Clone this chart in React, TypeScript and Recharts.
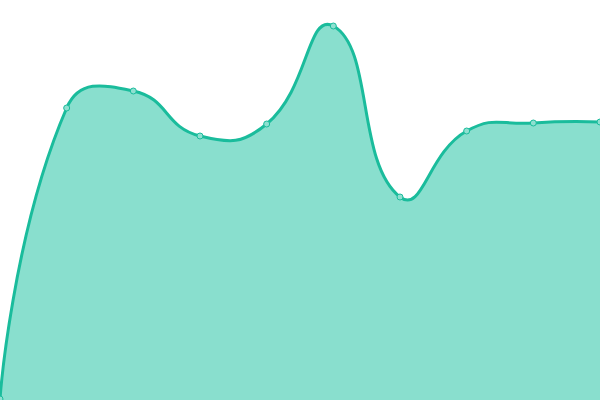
import { Area, AreaChart, XAxis, YAxis } from "recharts";

const LABELS = ["A", "B", "C", "D", "E", "F", "G", "H", "I", "J"];
const VALUES = [1, 292, 309, 264, 276, 374, 203, 269, 277, 278];

const LINE = "#1abc9c";
const FILL = "#89dfce";
const SMOOTH = 0.5;

// bezier smoothing: control points along the prev->next direction, split by segment length
function smoothCurve(context: any) {
  let line = NaN;
  let pts: number[][] = [];
  return {
    areaStart() {
      line = 0;
    },
    areaEnd() {
      line = NaN;
    },
    lineStart() {
      pts = [];
    },
    lineEnd() {
      const n = pts.length;
      if (n) {
        const [x0, y0] = pts[0];
        if (line) context.lineTo(x0, y0);
        else context.moveTo(x0, y0);
        let cx = x0;
        let cy = y0;
        for (let i = 1; i < n; i++) {
          const [x, y] = pts[i];
          const [px, py] = pts[i - 1];
          let vx = 0;
          let vy = 0;
          let ratio = 0.5;
          let ncx = x;
          let ncy = y;
          if (i < n - 1) {
            const [nx, ny] = pts[i + 1];
            vx = nx - px;
            vy = ny - py;
            const l0 = Math.hypot(x - px, y - py);
            const l1 = Math.hypot(nx - x, ny - y);
            ratio = l0 + l1 === 0 ? 0.5 : l1 / (l0 + l1);
            ncx = x - vx * SMOOTH * (1 - ratio);
            ncy = y - vy * SMOOTH * (1 - ratio);
          }
          context.bezierCurveTo(cx, cy, ncx, ncy, x, y);
          cx = x + vx * SMOOTH * ratio;
          cy = y + vy * SMOOTH * ratio;
        }
      }
      if (line || (line !== 0 && n === 1)) context.closePath();
      line = 1 - line;
    },
    point(x: number, y: number) {
      pts.push([+x, +y]);
    },
  };
}

const data = LABELS.map((label, i) => ({ label, value: VALUES[i] }));

export default function App() {
  return (
    <div style={{ position: "fixed", left: 0, top: 0, width: 600, height: 400, background: "#fff" }}>
      <AreaChart width={600} height={400} data={data} margin={{ top: 0, right: 0, left: 0, bottom: 0 }}>
        <XAxis dataKey="label" hide />
        <YAxis domain={[0, 400]} hide />
        <Area
          type={smoothCurve as any}
          dataKey="value"
          stroke={LINE}
          strokeWidth={3}
          fill={FILL}
          fillOpacity={1}
          dot={{ r: 3, fill: "#8ee0d0", stroke: LINE, strokeWidth: 1, fillOpacity: 1 }}
          activeDot={false}
          isAnimationActive={false}
        />
      </AreaChart>
    </div>
  );
}
